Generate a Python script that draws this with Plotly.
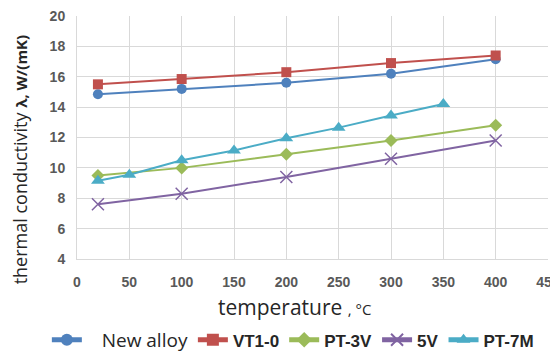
import plotly.graph_objects as go

x_main = [20, 100, 200, 300, 400]
new_alloy = [14.85, 15.2, 15.6, 16.2, 17.15]
vt1_0 = [15.5, 15.85, 16.3, 16.9, 17.4]
pt_3v = [9.5, 10.0, 10.9, 11.8, 12.8]
v5 = [7.6, 8.3, 9.4, 10.6, 11.8]
x_pt7m = [20, 50, 100, 150, 200, 250, 300, 350]
pt_7m = [9.15, 9.55, 10.5, 11.15, 11.95, 12.65, 13.45, 14.2]

x_ticks = [0, 50, 100, 150, 200, 250, 300, 350, 400, 450]
y_ticks = [4, 6, 8, 10, 12, 14, 16, 18, 20]

bold = "<span style='font-family:Liberation Sans;font-size:17px'><b>{}</b></span>"
series = [
    ("\u00a0\u00a0\u00a0New alloy", x_main, new_alloy, "#4F81BD", "circle", 10),
    (bold.format("VT1-0"), x_main, vt1_0, "#C0504D", "square", 10),
    (bold.format("PT-3V"), x_main, pt_3v, "#9BBB59", "diamond", 10),
    (bold.format("5V"), x_main, v5, "#8064A2", "x-thin-open", 12),
    (bold.format("PT-7M"), x_pt7m, pt_7m, "#4BACC6", "triangle-up", 12),
]

fig = go.Figure()
for name, xs, ys, color, sym, size in series:
    marker = dict(symbol=sym, size=size, color=color)
    if sym == "x-thin-open":
        marker["line"] = dict(color=color, width=1.5)
    fig.add_trace(go.Scatter(x=xs, y=ys, name=name, mode="lines+markers",
                             line=dict(color=color, width=2), marker=marker))

axis_font = dict(family="Liberation Sans, Arial", size=14, color="#595959", weight="bold")
common = dict(showgrid=True, gridcolor="#D9D9D9", gridwidth=1, showline=True,
              linecolor="#D9D9D9", zeroline=False, ticks="", automargin=False,
              tickfont=axis_font, ticklabeloverflow="allow")
# page body adds an 8px offset, so the figure is 8px smaller and shifted
fig.update_layout(
    width=550, height=348,
    margin=dict(l=69, r=10, t=8, b=97, autoexpand=False),
    paper_bgcolor="white", plot_bgcolor="white",
    showlegend=True,
    legend=dict(orientation="h", x=-0.064, xanchor="left", y=-0.333, yanchor="middle",
                font=dict(family="Open Sans, DejaVu Sans", size=19, color="#262626"),
                itemwidth=30, itemsizing="constant", tracegroupgap=0),
    xaxis=dict(range=[0, 450], tickvals=x_ticks, ticklabelstandoff=10, **common),
    yaxis=dict(range=[4, 20], tickvals=y_ticks, ticklabelstandoff=8, **common),
    annotations=[
        dict(text="temperature <span style='font-size:15px'>, °C</span>",
             xref="paper", yref="paper", x=0.461, y=0, yshift=-48,
             xanchor="center", yanchor="middle", showarrow=False,
             font=dict(family="Open Sans, DejaVu Sans", size=21, color="#262626")),
        dict(text="thermal conductivity <span style='font-size:15px'><b>λ, W/(mK)</b></span>",
             xref="paper", yref="paper", x=0, xshift=-57, y=0.41,
             xanchor="center", yanchor="middle", textangle=-90, showarrow=False,
             font=dict(family="Open Sans, DejaVu Sans", size=18, color="#262626")),
    ],
)
fig.write_html("out.html")
